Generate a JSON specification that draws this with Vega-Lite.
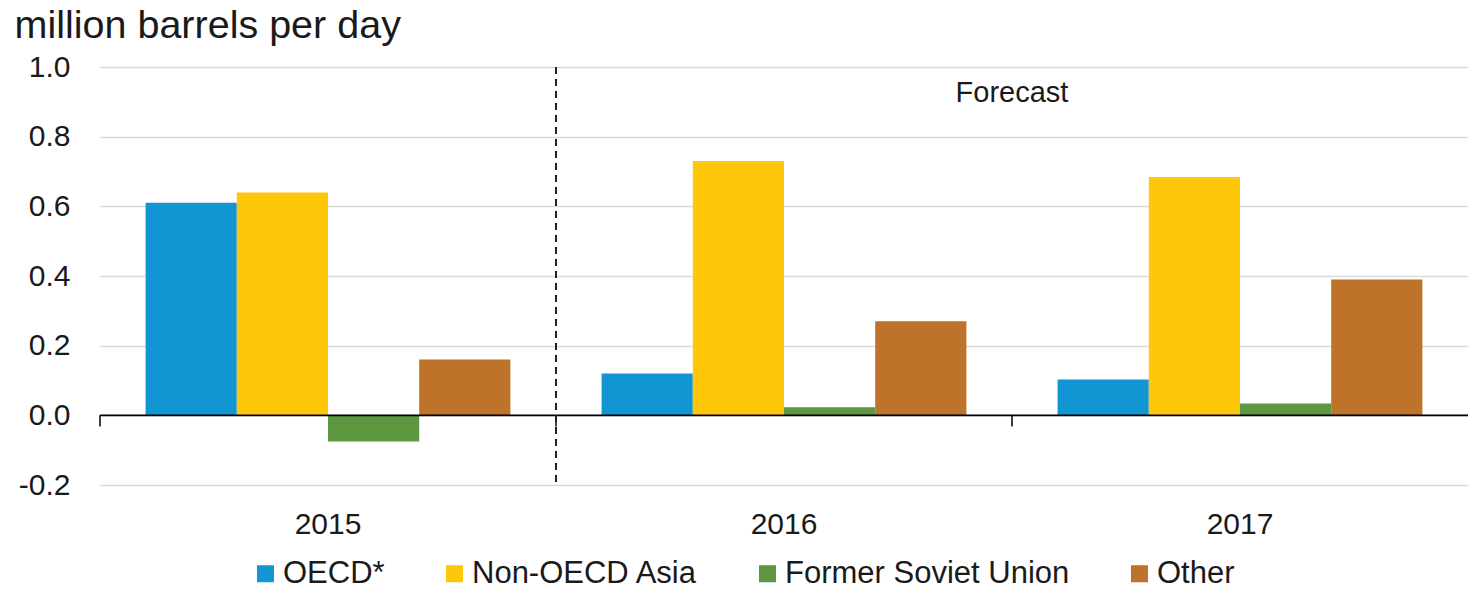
{
  "$schema": "https://vega.github.io/schema/vega-lite/v6.json",
  "width": 1368,
  "height": 418,
  "autosize": {"type": "none"},
  "padding": {"left": 100, "top": 67, "right": 0, "bottom": 105},
  "background": "white",
  "config": {
    "font": "Liberation Sans",
    "view": {"stroke": null},
    "axis": {"labelColor": "#1a1a1a", "titleColor": "#1a1a1a"}
  },
  "datasets": {
    "growth": [
      {"year": "2015", "region": "OECD*", "value": 0.61},
      {"year": "2015", "region": "Non-OECD Asia", "value": 0.64},
      {"year": "2015", "region": "Former Soviet Union", "value": -0.075},
      {"year": "2015", "region": "Other", "value": 0.16},
      {"year": "2016", "region": "OECD*", "value": 0.12},
      {"year": "2016", "region": "Non-OECD Asia", "value": 0.73},
      {"year": "2016", "region": "Former Soviet Union", "value": 0.023},
      {"year": "2016", "region": "Other", "value": 0.27},
      {"year": "2017", "region": "OECD*", "value": 0.103},
      {"year": "2017", "region": "Non-OECD Asia", "value": 0.684},
      {"year": "2017", "region": "Former Soviet Union", "value": 0.034},
      {"year": "2017", "region": "Other", "value": 0.39}
    ],
    "years": [{"year": "2015"}, {"year": "2016"}, {"year": "2017"}],
    "note": [{"year": "2017", "label": "Forecast", "start": "2016"}]
  },
  "data": {"name": "growth"},
  "encoding": {
    "x": {
      "field": "year", "type": "nominal",
      "scale": {"paddingInner": 0, "paddingOuter": 0},
      "axis": {"title": null, "labelAngle": 0, "domain": false, "ticks": false, "labelFontSize": 30, "labelPadding": 24, "labelBaseline": "top"}
    }
  },
  "layer": [
    {
      "mark": {"type": "bar"},
      "encoding": {
        "xOffset": {"field": "region", "type": "nominal", "sort": ["OECD*", "Non-OECD Asia", "Former Soviet Union", "Other"], "scale": {"paddingInner": 0, "paddingOuter": 0.5}},
        "y": {
          "field": "value", "type": "quantitative",
          "scale": {"domain": [-0.2, 1.0], "nice": false, "zero": false},
          "axis": {
            "values": [-0.2, 0, 0.2, 0.4, 0.6, 0.8, 1.0],
            "format": ".1f",
            "labelExpr": "replace(datum.label, '\u2212', '-')",
            "domain": false, "ticks": false,
            "labelFontSize": 30, "labelPadding": 30,
            "gridColor": "#d9d9d9", "gridWidth": 1.5,
            "title": "million barrels per day",
            "titleAngle": 0, "titleAlign": "left", "titleBaseline": "alphabetic",
            "titleX": -86, "titleY": -30, "titleFontSize": 39.5, "titleFontWeight": "normal"
          }
        },
        "color": {
          "field": "region", "type": "nominal",
          "sort": ["OECD*", "Non-OECD Asia", "Former Soviet Union", "Other"],
          "scale": {"domain": ["OECD*", "Non-OECD Asia", "Former Soviet Union", "Other"], "range": ["#1295D3", "#FFC70A", "#5D9741", "#BD732A"]},
          "legend": {
            "title": null, "orient": "none", "direction": "horizontal",
            "legendX": 150, "legendY": 491,
            "symbolType": "square", "symbolSize": 289, "symbolStrokeWidth": 0,
            "labelFontSize": 31, "labelColor": "#1a1a1a", "labelOffset": 2, "labelLimit": 400,
            "columnPadding": 54
          }
        }
      }
    },
    {
      "data": {"name": "note"},
      "mark": {"type": "rule", "color": "#000000", "strokeWidth": 1.6},
      "encoding": {"x": null, "y": {"datum": 0}}
    },
    {
      "data": {"name": "years"},
      "mark": {"type": "rule", "color": "#000000", "strokeWidth": 1.5},
      "encoding": {"x": {"field": "year", "type": "nominal", "bandPosition": 0}, "y": {"datum": 0}, "y2": {"datum": -0.032}}
    },
    {
      "data": {"name": "note"},
      "mark": {"type": "rule", "color": "#222222", "strokeWidth": 2, "strokeDash": [7, 5]},
      "encoding": {"x": {"field": "start", "type": "nominal", "bandPosition": 0}}
    },
    {
      "data": {"name": "note"},
      "mark": {"type": "text", "fontSize": 29, "color": "#1a1a1a", "align": "center", "baseline": "middle"},
      "encoding": {"x": {"field": "year", "type": "nominal", "bandPosition": 0}, "y": {"datum": 0.925}, "text": {"field": "label"}}
    }
  ]
}
